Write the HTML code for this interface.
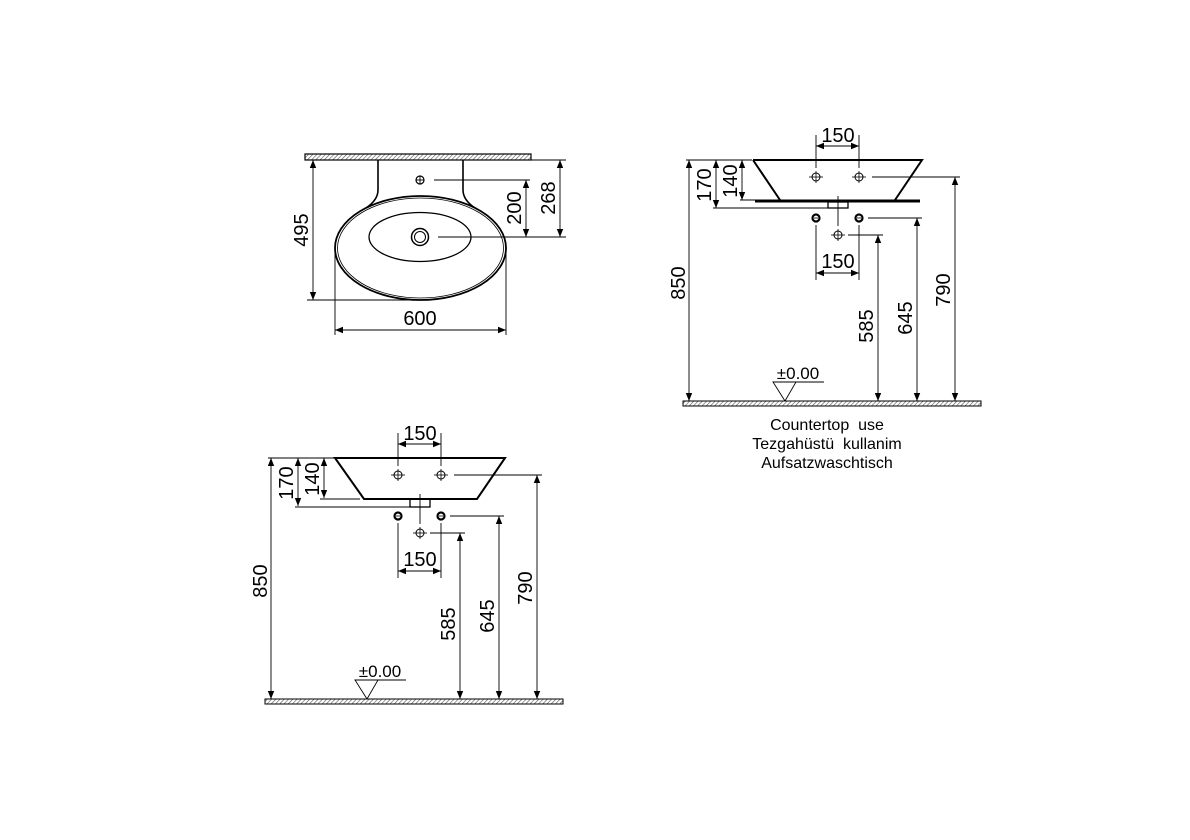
<!DOCTYPE html>
<html><head><meta charset="utf-8"><style>
html,body{margin:0;padding:0;background:#fff;}
svg{display:block;}
text{font-family:"Liberation Sans",sans-serif;fill:#000;}
</style></head><body>
<svg width="1190" height="840" viewBox="0 0 1190 840" xmlns="http://www.w3.org/2000/svg">
<defs>
<pattern id="h" width="3" height="3" patternUnits="userSpaceOnUse" patternTransform="rotate(45)">
<rect width="3" height="3" fill="#fff"/><line x1="0" y1="0" x2="0" y2="3" stroke="#555" stroke-width="1.2"/>
</pattern>
<marker id="a" viewBox="0 0 10 10" refX="10" refY="5" markerWidth="8" markerHeight="8" markerUnits="userSpaceOnUse" orient="auto-start-reverse">
<path d="M0,1 L10,5 L0,9 z" fill="#000"/></marker>
<g id="tap"><circle r="4" fill="none" stroke="#000" stroke-width="1"/><line x1="-7" y1="0" x2="7" y2="0" stroke="#000" stroke-width="0.8"/><line x1="0" y1="-6" x2="0" y2="6" stroke="#000" stroke-width="0.8"/></g>
<g id="hole"><circle r="3.5" fill="none" stroke="#000" stroke-width="2.2"/><line x1="-2" y1="0" x2="2" y2="0" stroke="#000" stroke-width="0.8"/></g>
<g id="side">
 <g stroke="#000" stroke-width="0.9" fill="none">
  <line x1="686" y1="160" x2="752" y2="160"/>
  <line x1="689" y1="160" x2="689" y2="401" marker-start="url(#a)" marker-end="url(#a)"/>
  <line x1="716" y1="160" x2="716" y2="208" marker-start="url(#a)" marker-end="url(#a)"/>
  <line x1="742" y1="160" x2="742" y2="200" marker-start="url(#a)" marker-end="url(#a)"/>
  <line x1="816" y1="135" x2="816" y2="168"/>
  <line x1="859" y1="135" x2="859" y2="168"/>
  <line x1="816" y1="146" x2="859" y2="146" marker-start="url(#a)" marker-end="url(#a)"/>
  <line x1="872" y1="177" x2="960" y2="177"/>
  <line x1="955" y1="177" x2="955" y2="401" marker-start="url(#a)" marker-end="url(#a)"/>
  <line x1="868" y1="218" x2="922" y2="218"/>
  <line x1="917" y1="218" x2="917" y2="401" marker-start="url(#a)" marker-end="url(#a)"/>
  <line x1="848" y1="235" x2="883" y2="235"/>
  <line x1="878" y1="235" x2="878" y2="401" marker-start="url(#a)" marker-end="url(#a)"/>
  <line x1="816" y1="225" x2="816" y2="280"/>
  <line x1="859" y1="225" x2="859" y2="280"/>
  <line x1="816" y1="273" x2="859" y2="273" marker-start="url(#a)" marker-end="url(#a)"/>
  <line x1="838" y1="196" x2="838" y2="226"/>
  <line x1="773" y1="382" x2="824" y2="382"/>
  <path d="M773,382 L796,382 L785,401 Z"/>
 </g>
 <use href="#tap" x="816" y="177"/><use href="#tap" x="859" y="177"/>
 <use href="#hole" x="816" y="218"/><use href="#hole" x="859" y="218"/>
 <use href="#tap" x="838" y="235"/>
 <rect x="683" y="401" width="298" height="5" fill="url(#h)" stroke="#000" stroke-width="1"/>
 <text x="838" y="142" font-size="20" text-anchor="middle">150</text>
 <text x="838" y="268" font-size="20" text-anchor="middle">150</text>
 <text x="798" y="379" font-size="17" text-anchor="middle">±0.00</text>
 <text transform="translate(685,283) rotate(-90)" font-size="20" text-anchor="middle">850</text>
 <text transform="translate(711,185) rotate(-90)" font-size="20" text-anchor="middle">170</text>
 <text transform="translate(737,181) rotate(-90)" font-size="20" text-anchor="middle">140</text>
 <text transform="translate(873,326) rotate(-90)" font-size="20" text-anchor="middle">585</text>
 <text transform="translate(912,318) rotate(-90)" font-size="20" text-anchor="middle">645</text>
 <text transform="translate(950,290) rotate(-90)" font-size="20" text-anchor="middle">790</text>
</g>
</defs>

<!-- TOP VIEW -->
<rect x="305" y="154" width="226" height="6" fill="url(#h)" stroke="#000" stroke-width="1.2"/>
<g fill="none" stroke="#000">
 <path d="M378,160 L378,190 Q378,200 366,208" stroke-width="1.6"/>
 <path d="M463,160 L463,190 Q463,200 475,208" stroke-width="1.6"/>
 <ellipse cx="420.5" cy="248" rx="85.5" ry="52" stroke-width="1.8"/>
 <ellipse cx="420.5" cy="248" rx="83" ry="50" stroke-width="0.8"/>
 <ellipse cx="420" cy="237" rx="51" ry="24.5" stroke-width="1.3"/>
 <circle cx="420" cy="237" r="8.5" stroke-width="1.5"/>
 <circle cx="420" cy="237" r="5.5" stroke-width="1"/>
 <circle cx="420" cy="180" r="4" stroke-width="1.2"/>
 <g stroke-width="0.9">
  <line x1="416" y1="180" x2="424" y2="180"/><line x1="420" y1="176" x2="420" y2="184"/>
  <line x1="434" y1="180" x2="530" y2="180"/>
  <line x1="438" y1="237" x2="566" y2="237"/>
  <line x1="531" y1="160" x2="566" y2="160"/>
  <line x1="526" y1="180" x2="526" y2="237" marker-start="url(#a)" marker-end="url(#a)"/>
  <line x1="560" y1="160" x2="560" y2="237" marker-start="url(#a)" marker-end="url(#a)"/>
  <line x1="313" y1="160" x2="313" y2="300" marker-start="url(#a)" marker-end="url(#a)"/>
  <line x1="307" y1="300" x2="420" y2="300"/>
  <line x1="335" y1="250" x2="335" y2="335"/>
  <line x1="506" y1="250" x2="506" y2="335"/>
  <line x1="335" y1="330" x2="506" y2="330" marker-start="url(#a)" marker-end="url(#a)"/>
 </g>
</g>
<text transform="translate(308,230) rotate(-90)" font-size="20" text-anchor="middle">495</text>
<text transform="translate(521,208) rotate(-90)" font-size="20" text-anchor="middle">200</text>
<text transform="translate(555,198) rotate(-90)" font-size="20" text-anchor="middle">268</text>
<text x="420" y="325" font-size="20" text-anchor="middle">600</text>

<!-- RIGHT SIDE VIEW -->
<use href="#side"/>
<g fill="none" stroke="#000">
 <path d="M753,160 L922,160 L895,200 M753,160 L780,200" stroke-width="2"/>
 <line x1="755" y1="201" x2="920" y2="201" stroke-width="3"/>
 <line x1="740" y1="200" x2="778" y2="200" stroke-width="0.9"/>
 <line x1="713" y1="208" x2="830" y2="208" stroke-width="0.9"/>
 <rect x="828" y="202" width="20" height="6" stroke-width="1.3"/>
</g>
<text x="827" y="430" font-size="16" text-anchor="middle">Countertop&#160;&#160;use</text>
<text x="827" y="449" font-size="16" text-anchor="middle">Tezgahüstü&#160;&#160;kullanim</text>
<text x="827" y="468" font-size="16" text-anchor="middle">Aufsatzwaschtisch</text>

<!-- LEFT BOTTOM SIDE VIEW -->
<use href="#side" transform="translate(-418,298)"/>
<g fill="none" stroke="#000">
 <path d="M335,458 L505,458 L477,499 L364,499 Z" stroke-width="2"/>
 <line x1="320" y1="499" x2="360" y2="499" stroke-width="0.9"/>
 <line x1="295" y1="507" x2="410" y2="507" stroke-width="0.9"/>
 <rect x="410" y="499" width="20" height="8" stroke-width="1.3"/>
</g>
</svg>
</body></html>
